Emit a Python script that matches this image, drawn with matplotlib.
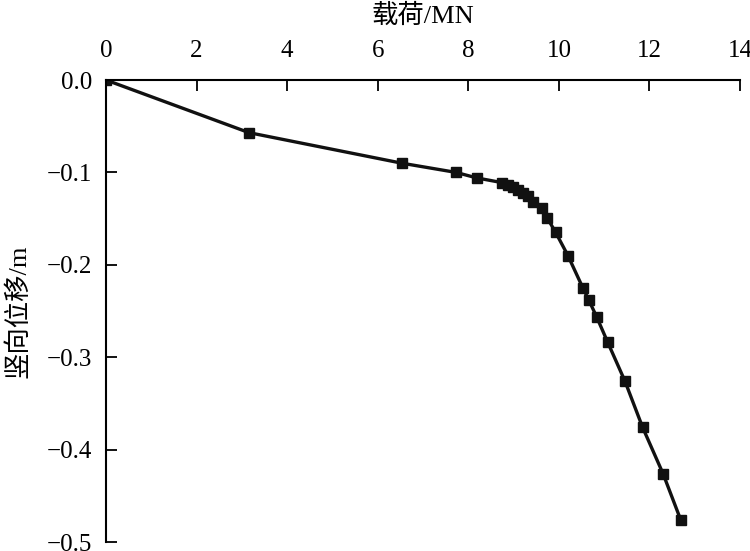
import matplotlib
matplotlib.use("Agg")
import matplotlib.pyplot as plt

# Load-displacement data
load_mn = [0.0, 3.16, 6.53, 7.73, 8.19, 8.74, 8.87, 8.98, 9.09, 9.21, 9.32, 9.43,
           9.62, 9.74, 9.93, 10.20, 10.53, 10.66, 10.84, 11.08, 11.46, 11.85,
           12.30, 12.69]
disp_m = [0.0, -0.057, -0.090, -0.100, -0.106, -0.111, -0.1135, -0.116, -0.119,
          -0.122, -0.126, -0.132, -0.138, -0.149, -0.165, -0.190, -0.225, -0.238,
          -0.257, -0.284, -0.326, -0.376, -0.426, -0.476]

x_ticks = [0, 2, 4, 6, 8, 10, 12, 14]
y_ticks = [0.0, -0.1, -0.2, -0.3, -0.4, -0.5]

plt.rcParams['font.family'] = ['Liberation Serif', 'Noto Sans CJK SC', 'DejaVu Sans']

fig = plt.figure(figsize=(7.5, 5.51), dpi=100)
ax = fig.add_axes([0.1413, 0.0163, 0.8454, 0.8385])

ax.plot(load_mn, disp_m, color='#111111', linewidth=2.4, marker='s',
        markersize=6.5, markerfacecolor='#111111', markeredgecolor='#111111')

ax.set_xlim(0, 14)
ax.set_ylim(-0.5, 0.0)
ax.xaxis.set_ticks_position('top')
ax.xaxis.set_label_position('top')
ax.set_xticks(x_ticks)
ax.set_yticks(y_ticks)
ax.set_yticklabels([f"{v:.1f}".replace('-', '\u2212') for v in y_ticks])

for side in ['right', 'bottom']:
    ax.spines[side].set_visible(False)
for side in ['left', 'top']:
    ax.spines[side].set_linewidth(1.5)

ax.tick_params(axis='both', direction='in', length=8, width=1.3, labelsize=18)
ax.tick_params(axis='x', pad=13)
ax.tick_params(axis='y', pad=10)

ax.set_xlabel('载荷/MN', fontsize=19, labelpad=12)
ax.set_ylabel('竖向位移/m', fontsize=19, labelpad=12)

fig.savefig('out.png', dpi=100)
